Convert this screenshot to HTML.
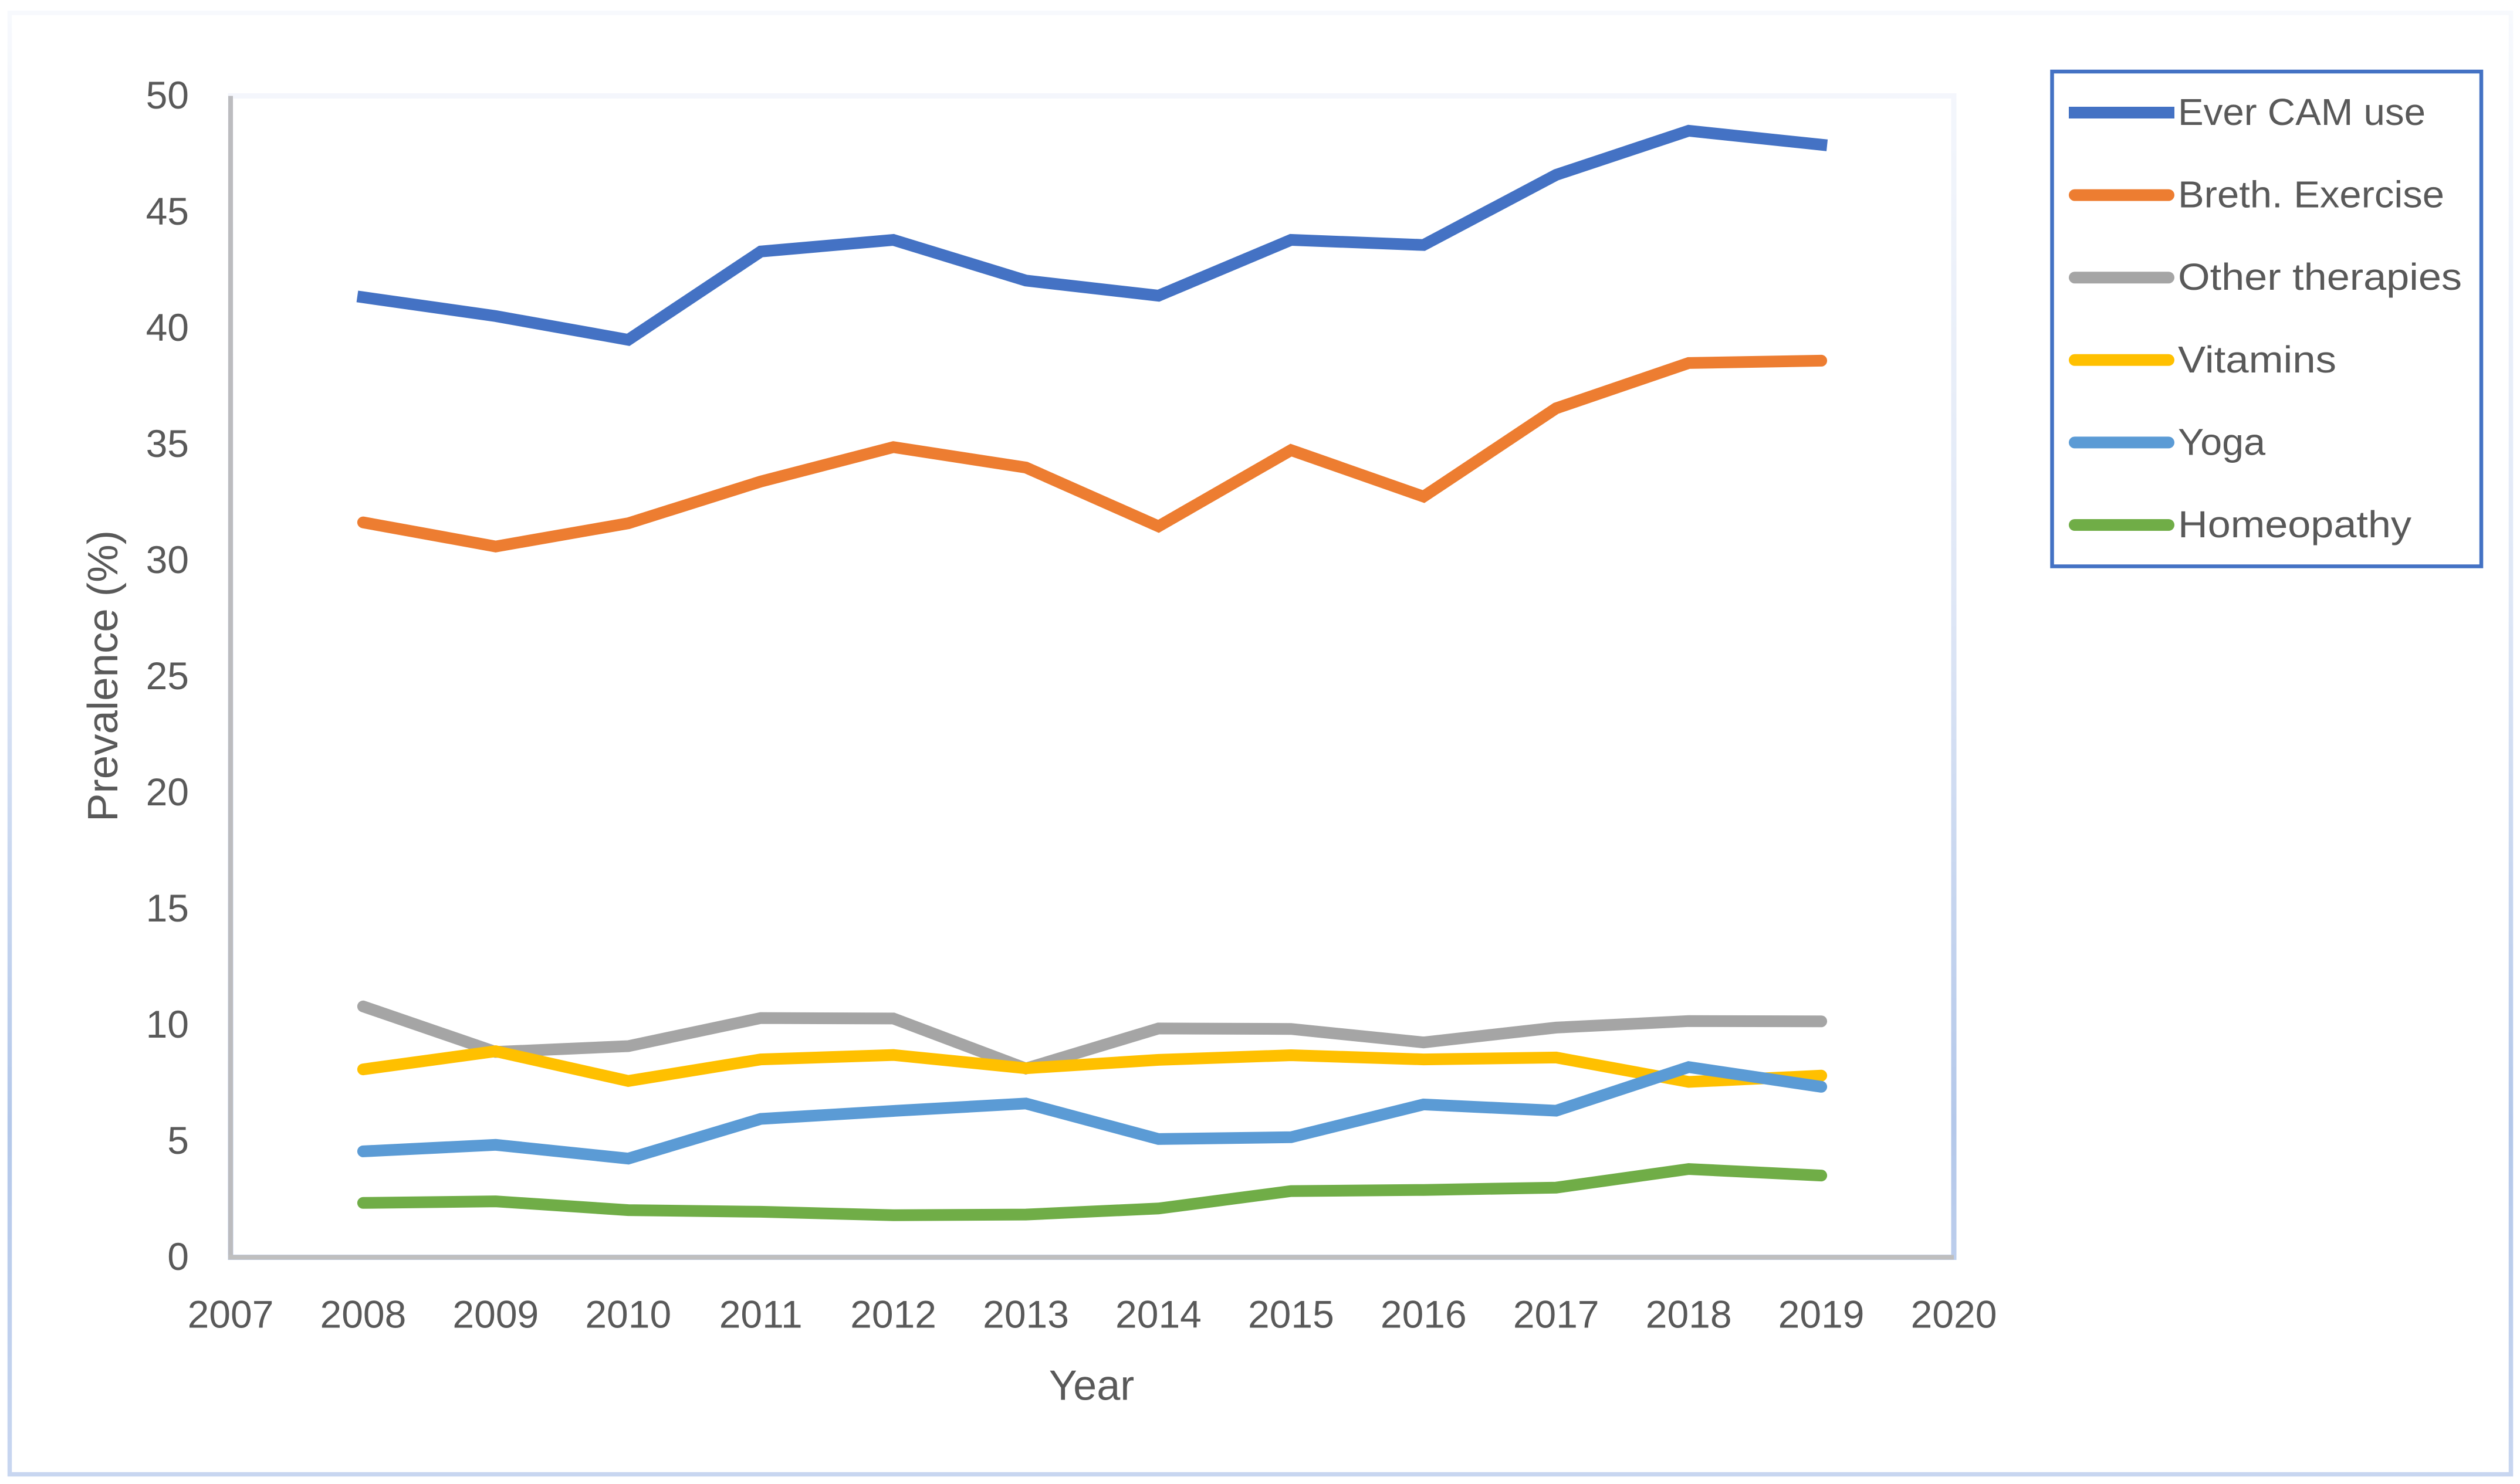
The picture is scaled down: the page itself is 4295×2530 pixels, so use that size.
<!DOCTYPE html>
<html lang="en">
<head>
<meta charset="utf-8">
<title>Prevalence of CAM use by year</title>
<style>
  html, body { margin: 0; padding: 0; background: #fff; }
  svg { display: block; }
  text { font-family: "Liberation Sans", "DejaVu Sans", sans-serif; fill: #595959; }
</style>
</head>
<body>
<svg id="chart" xmlns="http://www.w3.org/2000/svg" width="4295" height="2530" viewBox="0 0 4295 2530">
  <defs>
    <linearGradient id="edgeGrad" gradientUnits="userSpaceOnUse" x1="0" y1="20" x2="0" y2="2514">
      <stop offset="0" stop-color="#f7f9fd"/>
      <stop offset="0.4" stop-color="#dfe7f6"/>
      <stop offset="0.76" stop-color="#b4c8ea"/>
      <stop offset="1" stop-color="#c8d6f0"/>
    </linearGradient>
  </defs>
  <rect x="0" y="0" width="4295" height="2530" fill="#ffffff"/>
  <rect x="16.5" y="22" width="4263" height="2491.5" fill="none" stroke="url(#edgeGrad)" stroke-width="7.5"/>
  <g id="plot"></g>
  <text transform="translate(200 1152.5) rotate(-90)" text-anchor="middle" font-size="72" textLength="497" lengthAdjust="spacingAndGlyphs">Prevalence (%)</text>
  <text x="1860.5" y="2386.5" text-anchor="middle" font-size="72">Year</text>
  <rect x="3497.5" y="122" width="731.5" height="843.5" fill="#ffffff" stroke="#4472c4" stroke-width="6.5"/>
  <g id="legend"></g>
</svg>
<script>
const years = [2008, 2009, 2010, 2011, 2012, 2013, 2014, 2015, 2016, 2017, 2018, 2019];
const xTickLabels = [2007, 2008, 2009, 2010, 2011, 2012, 2013, 2014, 2015, 2016, 2017, 2018, 2019, 2020];
const yTickLabels = [0, 5, 10, 15, 20, 25, 30, 35, 40, 45, 50];
const everCamUse = [41.33, 40.52, 39.5, 43.3, 43.8, 42.05, 41.4, 43.8, 43.58, 46.6, 48.5, 47.9];
const brethExercise = [31.64, 30.6, 31.6, 33.4, 34.88, 34.0, 31.47, 34.75, 32.75, 36.55, 38.5, 38.6];
const otherTherapies = [10.8, 8.84, 9.09, 10.3, 10.28, 8.13, 9.85, 9.83, 9.25, 9.89, 10.17, 10.16];
const vitamins = [8.09, 8.87, 7.59, 8.52, 8.71, 8.14, 8.5, 8.7, 8.52, 8.6, 7.55, 7.82];
const yoga = [4.56, 4.84, 4.25, 5.96, 6.3, 6.62, 5.09, 5.17, 6.58, 6.31, 8.19, 7.34];
const homeopathy = [2.34, 2.41, 2.03, 1.96, 1.81, 1.84, 2.1, 2.85, 2.9, 3.0, 3.8, 3.52];
const seriesNames = ["Ever CAM use", "Breth. Exercise", "Other therapies", "Vitamins", "Yoga", "Homeopathy"];
const seriesSlugs = ["ever-cam-use", "breth-exercise", "other-therapies", "vitamins", "yoga", "homeopathy"];
const seriesValues = [everCamUse, brethExercise, otherTherapies, vitamins, yoga, homeopathy];
const seriesColors = ["#4472c4", "#ed7d31", "#a5a5a5", "#ffc000", "#5b9bd5", "#70ad47"];
const seriesCaps = ["square", "round", "round", "round", "round", "round"];
const legendTextWidths = [422, 454, 484, 270, 149, 398];

const SVGNS = "http://www.w3.org/2000/svg";
const plotLeft = 393, plotRight = 3330, plotTop = 163.5, plotBottom = 2143.5;
const xMin = 2007, xMax = 2020, yMin = 0, yMax = 50;
const lineWidth = 20;

function xScale(v) { return plotLeft + (v - xMin) / (xMax - xMin) * (plotRight - plotLeft); }
function yScale(v) { return plotBottom - (v - yMin) / (yMax - yMin) * (plotBottom - plotTop); }
function make(tag, attrs, parent) {
  const el = document.createElementNS(SVGNS, tag);
  for (const k in attrs) el.setAttribute(k, attrs[k]);
  parent.appendChild(el);
  return el;
}

const plot = document.getElementById("plot");
const legend = document.getElementById("legend");

const border = make("rect", { x: plotLeft, y: plotTop, width: plotRight - plotLeft, height: plotBottom - plotTop, fill: "none", stroke: "url(#edgeGrad)", "stroke-width": 9 }, plot);



const yAxis = make("line", { x1: plotLeft, x2: plotLeft, y1: plotTop, y2: plotBottom + 4, stroke: "#bcbcbf", "stroke-width": 8 }, plot);



const xAxis = make("line", { x1: plotLeft - 4, x2: plotRight, y1: plotBottom, y2: plotBottom, stroke: "#bfbfbf", "stroke-width": 8 }, plot);



yTickLabels.forEach(function (t) {
  const el = make("text", { x: 322, y: yScale(t) + 21.5, "text-anchor": "end", "font-size": 66 }, plot);
  el.textContent = String(t);
  
  
});

xTickLabels.forEach(function (t) {
  const el = make("text", { x: xScale(t), y: plotBottom + 120, "text-anchor": "middle", "font-size": 66 }, plot);
  el.textContent = String(t);
  
  
});

seriesValues.forEach(function (vals, i) {
  const pts = vals.map(function (v, j) { return xScale(years[j]).toFixed(1) + "," + yScale(v).toFixed(1); }).join(" ");
  const line = make("polyline", { points: pts, fill: "none", stroke: seriesColors[i], "stroke-width": lineWidth, "stroke-linejoin": "miter", "stroke-linecap": seriesCaps[i] }, plot);
  
  
});

const legendFirstY = 192, legendStep = 140.6, swatchLeft = 3526, swatchRight = 3706, legendTextX = 3712;
seriesNames.forEach(function (name, i) {
  const cy = legendFirstY + i * legendStep;
  const inset = seriesCaps[i] === "round" ? lineWidth / 2 : 0;
  const sw = make("line", { x1: swatchLeft + inset, x2: swatchRight - inset, y1: cy, y2: cy, stroke: seriesColors[i], "stroke-width": lineWidth, "stroke-linecap": seriesCaps[i] === "round" ? "round" : "butt" }, legend);
  
  
  const tx = make("text", { x: legendTextX, y: cy + 21, "font-size": 64, textLength: legendTextWidths[i], lengthAdjust: "spacingAndGlyphs" }, legend);
  tx.textContent = name;
  
  
});
</script>
</body>
</html>
